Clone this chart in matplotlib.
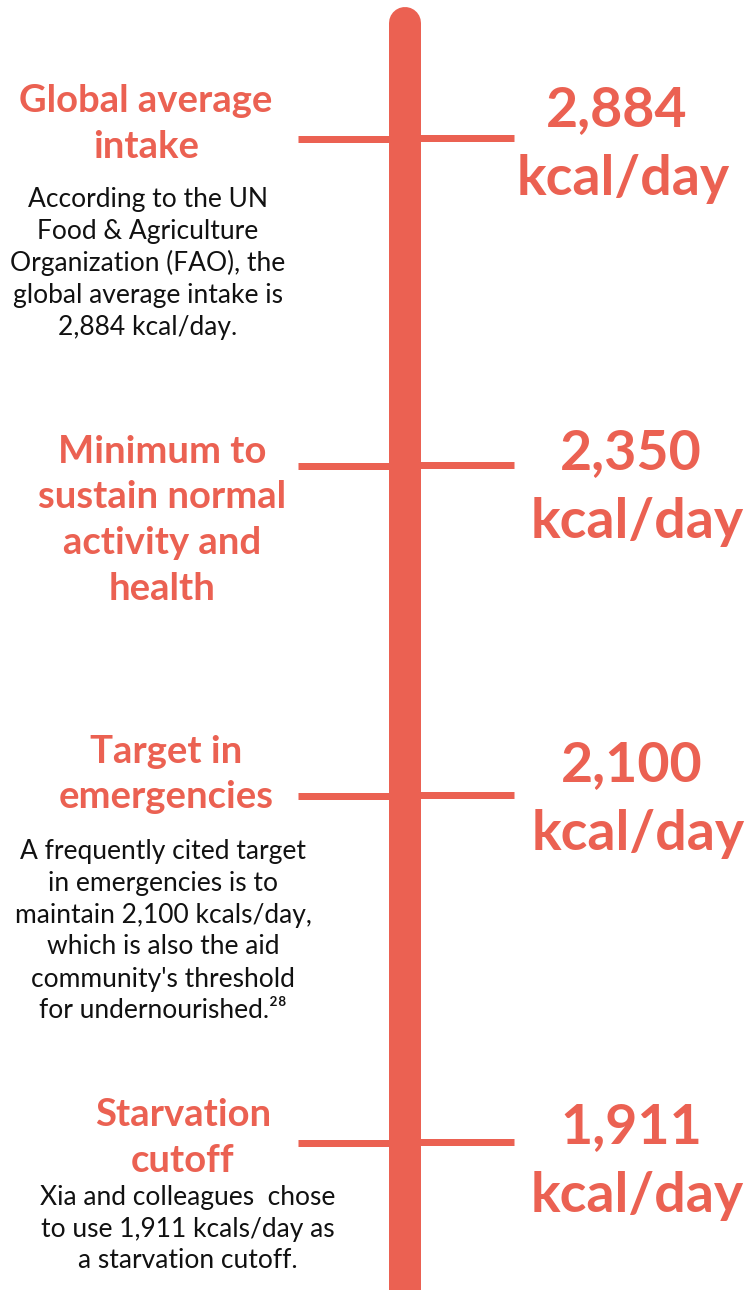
import matplotlib.pyplot as plt

values = ['2,884', '2,350', '2,100', '1,911']
titles = [['Global average', 'intake'],
          ['Minimum to', 'sustain normal', 'activity and', 'health'],
          ['Target in', 'emergencies'],
          ['Starvation', 'cutoff']]
notes = [['According to the UN', 'Food & Agriculture', 'Organization (FAO), the',
          'global average intake is', '2,884 kcal/day.'],
         [],
         ['A frequently cited target', 'in emergencies is to', 'maintain 2,100 kcals/day,',
          'which is also the aid', "community's threshold", 'for undernourished.²⁸'],
         ['Xia and colleagues  chose', 'to use 1,911 kcals/day as', 'a starvation cutoff.']]

# layout (pixels)
tick_y = [139, 466, 796, 1143]
title_y = [101, 452, 752, 1115]
title_x = [146, 162, 166, 183]
note_y = [199, None, 851, 1197]
note_x = [148, None, 163, 188]
val_y = [110, 453, 765, 1127]
val_x = [617, 631, 632, 631]

red = '#EB6152'
plt.rcParams['font.family'] = ['Lato', 'DejaVu Sans']

fig = plt.figure(figsize=(7.54, 12.9), dpi=100)
ax = fig.add_axes([0, 0, 1, 1])
ax.set_xlim(0, 754)
ax.set_ylim(1290, 0)
ax.axis('off')

ax.plot([405, 405], [23, 1310], color=red, lw=32 * 0.72, solid_capstyle='round', zorder=3)

for i, v in enumerate(values):
    ax.plot([298, 405], [tick_y[i], tick_y[i]], color=red, lw=7 * 0.72, solid_capstyle='butt', zorder=2)
    ax.plot([405, 514], [tick_y[i] - 1, tick_y[i] - 1], color=red, lw=7 * 0.72, solid_capstyle='butt', zorder=2)
    for j, line in enumerate(titles[i]):
        ax.text(title_x[i], title_y[i] + j * 45.5, line, color=red, fontsize=27.5,
                fontweight='bold', ha='center', va='center')
    for j, line in enumerate(notes[i]):
        ax.text(note_x[i], note_y[i] + j * 32, line, color='#111111', fontsize=19,
                ha='center', va='center')
    ax.text(val_x[i], val_y[i], v, color=red, fontsize=40, fontweight='bold', ha='center', va='center')
    ax.text(val_x[i] + 6, val_y[i] + 69, 'kcal/day', color=red, fontsize=40, fontweight='bold',
            ha='center', va='center')

fig.savefig('out.png', dpi=100, facecolor='white')
